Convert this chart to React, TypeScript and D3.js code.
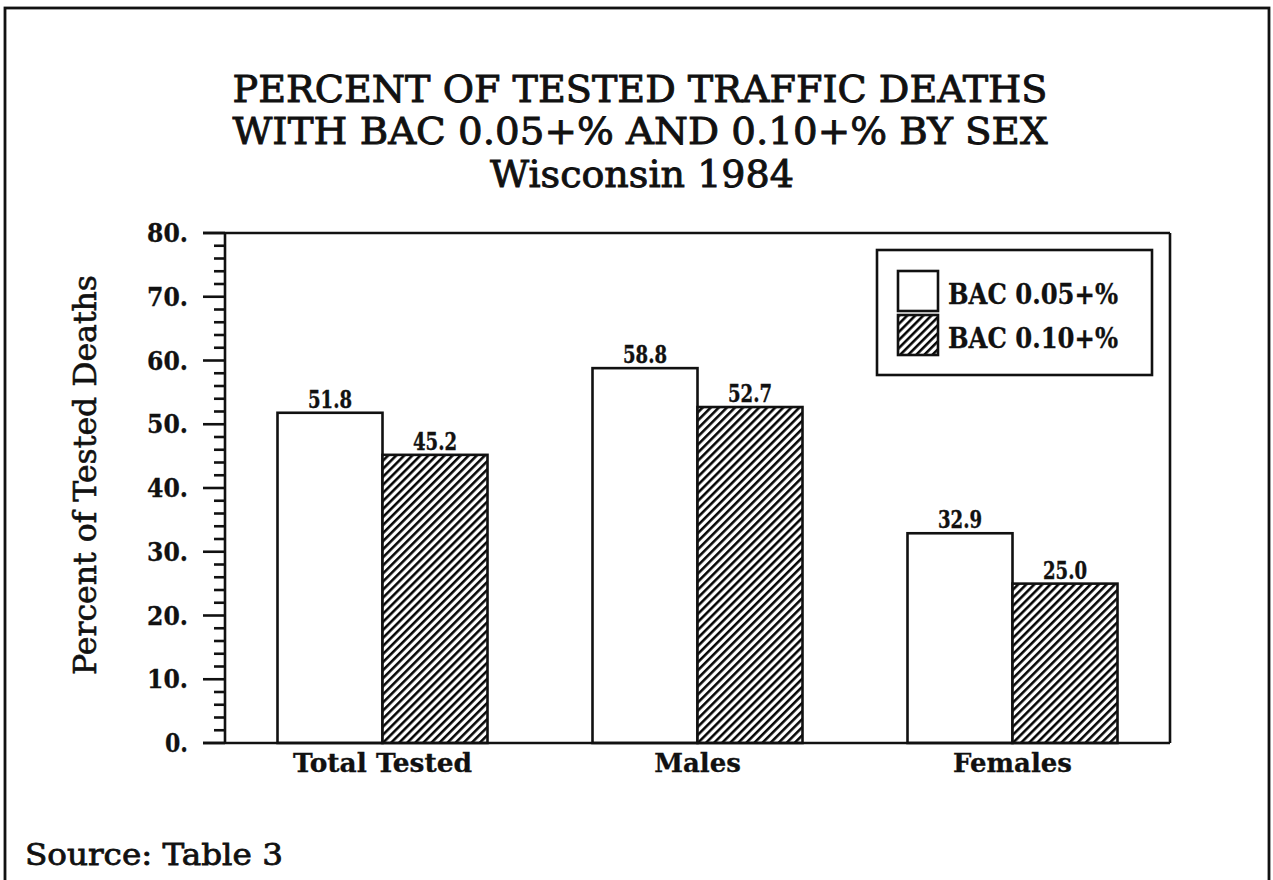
import React from "react";
import * as d3 from "d3";

const categories = ["Total Tested", "Males", "Females"];
const seriesNames = ["BAC 0.05+%", "BAC 0.10+%"];
const bac05 = [51.8, 58.8, 32.9];
const bac10 = [45.2, 52.7, 25.0];
const majorTicks = [0, 10, 20, 30, 40, 50, 60, 70, 80];
const titleLines = [
  "PERCENT OF TESTED TRAFFIC DEATHS",
  "WITH BAC 0.05+% AND 0.10+% BY SEX",
  "Wisconsin 1984",
];
const yLabel = "Percent of Tested Deaths";
const sourceText = "Source: Table 3";

const W = 1273;
const H = 880;
const left = 225;
const right = 1170;
const top = 233;
const bottom = 743;
const serif = "'DejaVu Serif', 'Liberation Serif', serif";
const ink = "#111";

export default function App() {
  const y = d3.scaleLinear().domain([0, 80]).range([bottom, top]);
  const x0 = d3
    .scaleBand<string>()
    .domain(categories)
    .range([left, right])
    .paddingInner(1 / 3)
    .paddingOuter(1 / 6);
  const x1 = d3
    .scaleBand<string>()
    .domain(seriesNames)
    .range([0, x0.bandwidth()]);
  const minorTicks = d3.range(0, 81, 2).filter((v) => v % 10 !== 0);
  const series = [bac05, bac10];
  const sw = 2.6;
  const titleStyle = {
    fontFamily: serif,
    fontSize: 37,
    fill: ink,
    stroke: ink,
    strokeWidth: 0.9,
  };

  return (
    <svg
      width={W}
      height={H}
      style={{ position: "absolute", left: 0, top: 0, background: "#fff" }}
    >
      <defs>
        <pattern
          id="hatch"
          patternUnits="userSpaceOnUse"
          width={5.7}
          height={10}
          patternTransform="rotate(45)"
        >
          <rect width={5.7} height={10} fill="#fff" />
          <line x1={1.3} y1={0} x2={1.3} y2={10} stroke="#000" strokeWidth={2.5} />
        </pattern>
      </defs>
      <rect x={0} y={0} width={W} height={H} fill="#fff" />
      {/* outer frame */}
      <rect x={5} y={8} width={1264} height={H + 20} fill="none" stroke={ink} strokeWidth={2.8} />

      {/* title */}
      <text x={640} y={102} textAnchor="middle" textLength={815} lengthAdjust="spacingAndGlyphs" style={titleStyle}>
        {titleLines[0]}
      </text>
      <text x={640} y={144} textAnchor="middle" textLength={815} lengthAdjust="spacingAndGlyphs" style={titleStyle}>
        {titleLines[1]}
      </text>
      <text x={642} y={187} textAnchor="middle" textLength={304} lengthAdjust="spacingAndGlyphs" style={titleStyle}>
        {titleLines[2]}
      </text>

      {/* y label */}
      <text
        transform={`translate(96, ${475}) rotate(-90)`}
        textAnchor="middle"
        fontFamily={serif}
        fontSize={31}
        textLength={400}
        lengthAdjust="spacingAndGlyphs"
        fill={ink}
        stroke={ink}
        strokeWidth={0.6}
      >
        {yLabel}
      </text>

      {/* bars */}
      {categories.map((c, i) => (
        <g key={c} transform={`translate(${x0(c)},0)`}>
          {seriesNames.map((s, j) => {
            const v = series[j][i];
            const bx = x1(s)!;
            return (
              <g key={s}>
                <rect
                  x={bx}
                  y={y(v)}
                  width={x1.bandwidth()}
                  height={bottom - y(v)}
                  fill={j === 0 ? "#fff" : "url(#hatch)"}
                  stroke={ink}
                  strokeWidth={sw}
                />
                <text
                  x={bx + x1.bandwidth() / 2}
                  y={y(v) - 5}
                  textAnchor="middle"
                  fontFamily={serif}
                  fontWeight="bold"
                  fontSize={24}
                  textLength={44}
                  lengthAdjust="spacingAndGlyphs"
                  fill={ink}
                  stroke={ink}
                  strokeWidth={0.4}
                >
                  {v.toFixed(1)}
                </text>
              </g>
            );
          })}
          <text
            x={x0.bandwidth() / 2}
            y={bottom + 29}
            textAnchor="middle"
            fontFamily={serif}
            fontWeight="bold"
            fontSize={26}
            textLength={179}
            lengthAdjust="spacingAndGlyphs"
            fill={ink}
            stroke={ink}
            strokeWidth={0.3}
            {...(c === "Total Tested" ? {} : { textLength: undefined })}
          >
            {c}
          </text>
        </g>
      ))}

      {/* axes frame */}
      <line x1={left} y1={top} x2={left} y2={bottom} stroke={ink} strokeWidth={sw} />
      <line x1={right} y1={top} x2={right} y2={bottom} stroke={ink} strokeWidth={sw} />
      <line x1={203} y1={top} x2={right} y2={top} stroke={ink} strokeWidth={sw} />
      <line x1={203} y1={bottom} x2={right} y2={bottom} stroke={ink} strokeWidth={sw} />
      {majorTicks.map((t) => {
        const label = t + ".";
        return (
          <g key={t}>
            <line x1={203} y1={y(t)} x2={left} y2={y(t)} stroke={ink} strokeWidth={sw} />
            <text
              x={188}
              y={y(t) + 9}
              textAnchor="end"
              fontFamily={serif}
              fontWeight="bold"
              fontSize={26}
              textLength={label.length === 3 ? 41 : 23}
              lengthAdjust="spacingAndGlyphs"
              fill={ink}
              stroke={ink}
              strokeWidth={0.3}
            >
              {label}
            </text>
          </g>
        );
      })}
      {minorTicks.map((t) => (
        <line key={t} x1={214} y1={y(t)} x2={left} y2={y(t)} stroke={ink} strokeWidth={sw} />
      ))}

      {/* legend */}
      <rect x={877} y={250} width={275} height={125} fill="#fff" stroke={ink} strokeWidth={sw} />
      {seriesNames.map((s, j) => (
        <g key={s} transform={`translate(0, ${j * 44})`}>
          <rect
            x={898}
            y={271}
            width={40}
            height={40}
            fill={j === 0 ? "#fff" : "url(#hatch)"}
            stroke={ink}
            strokeWidth={sw}
          />
          <text
            x={948}
            y={304}
            fontFamily={serif}
            fontWeight="bold"
            fontSize={28}
            textLength={170}
            lengthAdjust="spacingAndGlyphs"
            fill={ink}
            stroke={ink}
            strokeWidth={0.3}
          >
            {s}
          </text>
        </g>
      ))}

      {/* source */}
      <text
        x={25}
        y={865}
        fontFamily={serif}
        fontSize={30}
        textLength={258}
        lengthAdjust="spacingAndGlyphs"
        fill={ink}
        stroke={ink}
        strokeWidth={0.8}
      >
        {sourceText}
      </text>
    </svg>
  );
}
